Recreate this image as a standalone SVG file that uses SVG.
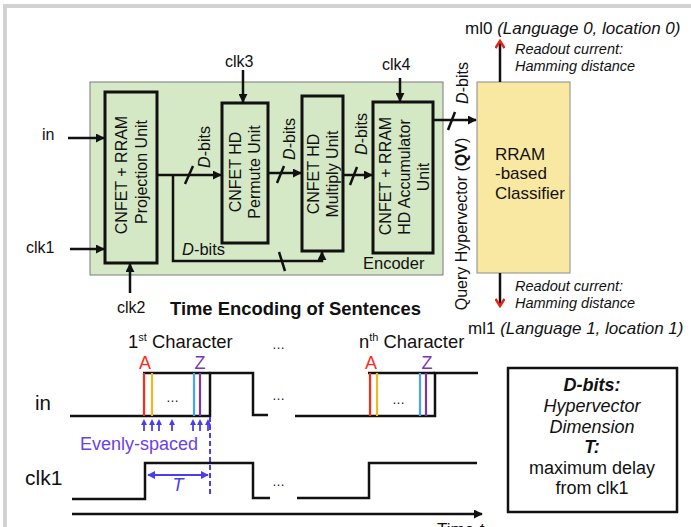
<svg xmlns="http://www.w3.org/2000/svg" width="691" height="527" viewBox="0 0 691 527">
<defs>
<style>
text{font-family:"Liberation Sans",Arial,sans-serif;fill:#111}
.f16{font-size:16px}
.it{font-style:italic}
.bd{font-weight:bold}
.unit{fill:#d5e8c5;stroke:#111;stroke-width:3}
.wire{fill:none;stroke:#111;stroke-width:2.5}
.wave{fill:none;stroke:#111;stroke-width:2.5}
.slash{stroke:#111;stroke-width:2.5}
.blue{fill:#5a3cf0}
</style>
<marker id="ah" viewBox="0 0 10 10" refX="9" refY="5" markerWidth="9" markerHeight="9" markerUnits="userSpaceOnUse" orient="auto">
<path d="M0,0 L10,5 L0,10 z" fill="#111"/>
</marker>
<marker id="ahb" viewBox="0 0 10 10" refX="9" refY="5" markerWidth="8" markerHeight="8" markerUnits="userSpaceOnUse" orient="auto-start-reverse">
<path d="M0,0 L10,5 L0,10 z" fill="#4a3cf0"/>
</marker>
<marker id="ahr" viewBox="0 0 10 10" refX="8" refY="5" markerWidth="10" markerHeight="10" markerUnits="userSpaceOnUse" orient="auto">
<path d="M1,0.5 L8,5 L1,9.5" fill="none" stroke="#e8201a" stroke-width="2.5"/>
</marker>
</defs>
<rect x="0" y="0" width="691" height="527" fill="#fff"/>
<rect x="3" y="4" width="688" height="4" fill="#d2d2d2"/>
<rect x="3" y="4" width="4" height="523" fill="#d2d2d2"/>

<g id="encoder">
<rect x="90" y="82" width="353" height="193" fill="#d6e9c7" stroke="#7a7a7a" stroke-width="1"/>
<text class="f16" x="363" y="269" style="font-size:16.5px">Encoder</text>
</g>

<g id="projection">
<rect class="unit" x="105" y="92" width="52" height="171"/>
<text class="f16" text-anchor="middle" transform="translate(127,175) rotate(-90)">CNFET + RRAM</text>
<text class="f16" text-anchor="middle" transform="translate(147,172) rotate(-90)">Projection Unit</text>
</g>

<g id="permute">
<rect class="unit" x="222" y="103" width="46" height="140"/>
<text class="f16" text-anchor="middle" transform="translate(241,172) rotate(-90)">CNFET HD</text>
<text class="f16" text-anchor="middle" transform="translate(260,172) rotate(-90)">Permute Unit</text>
</g>

<g id="multiply">
<rect class="unit" x="302" y="96" width="41" height="155"/>
<text class="f16" text-anchor="middle" transform="translate(319,174) rotate(-90)">CNFET HD</text>
<text class="f16" text-anchor="middle" transform="translate(338,174) rotate(-90)">Multiply Unit</text>
</g>

<g id="accumulator">
<rect class="unit" x="373" y="102" width="60" height="151"/>
<text class="f16" text-anchor="middle" transform="translate(391,176) rotate(-90)">CNFET + RRAM</text>
<text class="f16" text-anchor="middle" transform="translate(410,177) rotate(-90)">HD Accumulator</text>
<text class="f16" text-anchor="middle" transform="translate(429,177) rotate(-90)">Unit</text>
</g>

<g id="classifier">
<rect x="477" y="82" width="93" height="191" fill="#f9e8a2" stroke="#8a8a8a" stroke-width="1"/>
<text x="495" y="160" style="font-size:17px">RRAM</text>
<text x="495" y="179" style="font-size:17px">-based</text>
<text x="495" y="199" style="font-size:17px">Classifier</text>
</g>

<g id="connectors">
<path class="wire" d="M68,138 H104" marker-end="url(#ah)"/>
<path class="wire" d="M70,249 H104" marker-end="url(#ah)"/>
<path class="wire" d="M130,293 V264" marker-end="url(#ah)"/>
<path class="wire" d="M243,70 V102" marker-end="url(#ah)"/>
<path class="wire" d="M400,78 V101" marker-end="url(#ah)"/>
<path class="wire" d="M157,175 H221" marker-end="url(#ah)"/>
<path class="wire" d="M173,175 V261 H322 V252" marker-end="url(#ah)"/>
<path class="wire" d="M268,173 H301" marker-end="url(#ah)"/>
<path class="wire" d="M343,175 H372" marker-end="url(#ah)"/>
<path class="wire" d="M433,120 H476" marker-end="url(#ah)"/>
<path class="wire" d="M500,82 V41" marker-end="url(#ahr)"/>
<path class="wire" d="M500,273 V306" marker-end="url(#ahr)"/>
<line class="slash" x1="185" y1="184" x2="193" y2="166"/>
<line class="slash" x1="279" y1="252" x2="285" y2="271"/>
<line class="slash" x1="277" y1="183" x2="284" y2="166"/>
<line class="slash" x1="350" y1="185" x2="357" y2="167"/>
<line class="slash" x1="448" y1="130" x2="455" y2="112"/>
</g>

<g id="labels">
<text class="f16" x="42" y="140">in</text>
<text class="f16" x="26" y="253">clk1</text>
<text class="f16" x="117" y="313">clk2</text>
<text class="f16" x="225" y="67">clk3</text>
<text class="f16" x="382" y="70">clk4</text>
<text class="f16" text-anchor="middle" transform="translate(210,147) rotate(-90)"><tspan class="it">D</tspan>-bits</text>
<text class="f16" text-anchor="middle" transform="translate(295,139) rotate(-90)"><tspan class="it">D</tspan>-bits</text>
<text class="f16" text-anchor="middle" transform="translate(367,134) rotate(-90)"><tspan class="it">D</tspan>-bits</text>
<text class="f16" text-anchor="middle" transform="translate(468,83) rotate(-90)"><tspan class="it">D</tspan>-bits</text>
<text class="f16" text-anchor="middle" transform="translate(467,224) rotate(-90)">Query Hypervector (<tspan class="bd">QV</tspan>)</text>
<text class="f16" x="182" y="255" style="font-size:16.5px"><tspan class="it">D</tspan>-bits</text>
<text class="bd" x="170" y="315" style="font-size:18.4px">Time Encoding of Sentences</text>
<text x="465" y="34" style="font-size:17px">ml0 <tspan class="it">(Language 0, location 0)</tspan></text>
<text class="it" x="515" y="54" style="font-size:14.5px">Readout current:</text>
<text class="it" x="515" y="71" style="font-size:14.5px">Hamming distance</text>
<text class="it" x="515" y="291" style="font-size:14.5px">Readout current:</text>
<text class="it" x="515" y="308" style="font-size:14.5px">Hamming distance</text>
<text x="468" y="334" style="font-size:17px">ml1 <tspan class="it">(Language 1, location 1)</tspan></text>
</g>

<g id="timing">
<text x="128" y="348" style="font-size:18.4px">1<tspan dy="-7" style="font-size:11px">st</tspan><tspan dy="7"> Character</tspan></text>
<text x="359" y="348" style="font-size:18.4px">n<tspan dy="-7" style="font-size:11px">th</tspan><tspan dy="7"> Character</tspan></text>
<text x="35" y="410" style="font-size:20.5px">in</text>
<text x="25" y="485" style="font-size:21px">clk1</text>
<text x="272" y="349" style="font-size:13px">…</text>
<text x="272" y="400" style="font-size:13px">…</text>
<text x="272" y="486" style="font-size:13px">…</text>
<text x="166" y="402" style="font-size:13px">…</text>
<text x="392" y="404" style="font-size:13px">…</text>
<!-- in waveform -->
<path class="wave" d="M70,416 H210 V373 H253 V415 H268"/>
<path class="wave" d="M143,373 H210"/>
<path class="wave" d="M295,416 H435 V373 H478"/>
<path class="wave" d="M368,373 H435"/>
<!-- character lines -->
<line x1="144" y1="373" x2="144" y2="416" stroke="#ff2a1a" stroke-width="2.2"/>
<line x1="152" y1="373" x2="152" y2="416" stroke="#f5b422" stroke-width="2.2"/>
<line x1="194" y1="373" x2="194" y2="416" stroke="#4aa3f0" stroke-width="2.2"/>
<line x1="200" y1="373" x2="200" y2="416" stroke="#7a35b5" stroke-width="2.2"/>
<line x1="370" y1="373" x2="370" y2="416" stroke="#ff2a1a" stroke-width="2.2"/>
<line x1="377" y1="373" x2="377" y2="416" stroke="#f5b422" stroke-width="2.2"/>
<line x1="420" y1="373" x2="420" y2="416" stroke="#4aa3f0" stroke-width="2.2"/>
<line x1="426" y1="373" x2="426" y2="416" stroke="#7a35b5" stroke-width="2.2"/>
<text x="145" y="369" text-anchor="middle" fill="#ff2a1a" style="font-size:18px;fill:#ff2a1a">A</text>
<text x="200" y="369" text-anchor="middle" style="font-size:18px;fill:#7a35b5">Z</text>
<text x="371" y="369" text-anchor="middle" style="font-size:18px;fill:#ff2a1a">A</text>
<text x="427" y="369" text-anchor="middle" style="font-size:18px;fill:#7a35b5">Z</text>
<!-- evenly spaced arrows -->
<g stroke="#4a3cf0" stroke-width="1.8">
<line x1="144" y1="431" x2="144" y2="424"/>
<line x1="152" y1="431" x2="152" y2="424"/>
<line x1="159" y1="431" x2="159" y2="424"/>
<line x1="172" y1="431" x2="172" y2="424"/>
<line x1="193" y1="431" x2="193" y2="424"/>
<line x1="200" y1="431" x2="200" y2="424"/>
<line x1="208" y1="431" x2="208" y2="424"/>
</g>
<g fill="#4a3cf0">
<path d="M141,425 L144,419 L147,425 z"/>
<path d="M149,425 L152,419 L155,425 z"/>
<path d="M156,425 L159,419 L162,425 z"/>
<path d="M169,425 L172,419 L175,425 z"/>
<path d="M190,425 L193,419 L196,425 z"/>
<path d="M197,425 L200,419 L203,425 z"/>
<path d="M205,425 L208,419 L211,425 z"/>
</g>
<text x="80" y="450" style="font-size:18px;fill:#6a40ee">Evenly-spaced</text>
<line x1="210" y1="417" x2="210" y2="494" stroke="#4a3cf0" stroke-width="2" stroke-dasharray="5,3"/>
<path d="M148,475 H208" fill="none" stroke="#4a3cf0" stroke-width="1.8" marker-start="url(#ahb)" marker-end="url(#ahb)"/>
<text class="it" x="178" y="491" text-anchor="middle" style="font-size:18px;fill:#4a3cf0">T</text>
<!-- clk1 waveform -->
<path class="wave" d="M72,499 H145 V463 H253 V498 H270"/>
<path class="wave" d="M297,498 H369 V463 H477"/>
<!-- time axis -->
<path class="wave" d="M72,514 H482" marker-end="url(#ah)"/>
<text x="437" y="535" style="font-size:17px">Time <tspan class="it">t</tspan></text>
</g>

<g id="legend">
<rect x="508" y="368" width="169" height="144" fill="#fff" stroke="#111" stroke-width="2.5"/>
<g text-anchor="middle" style="font-size:18px">
<text class="it bd" x="592" y="391">D-bits:</text>
<text class="it" x="592" y="412">Hypervector</text>
<text class="it" x="592" y="433">Dimension</text>
<text class="it bd" x="592" y="453">T:</text>
<text x="592" y="474">maximum delay</text>
<text x="592" y="494">from clk1</text>
</g>
</g>
</svg>
